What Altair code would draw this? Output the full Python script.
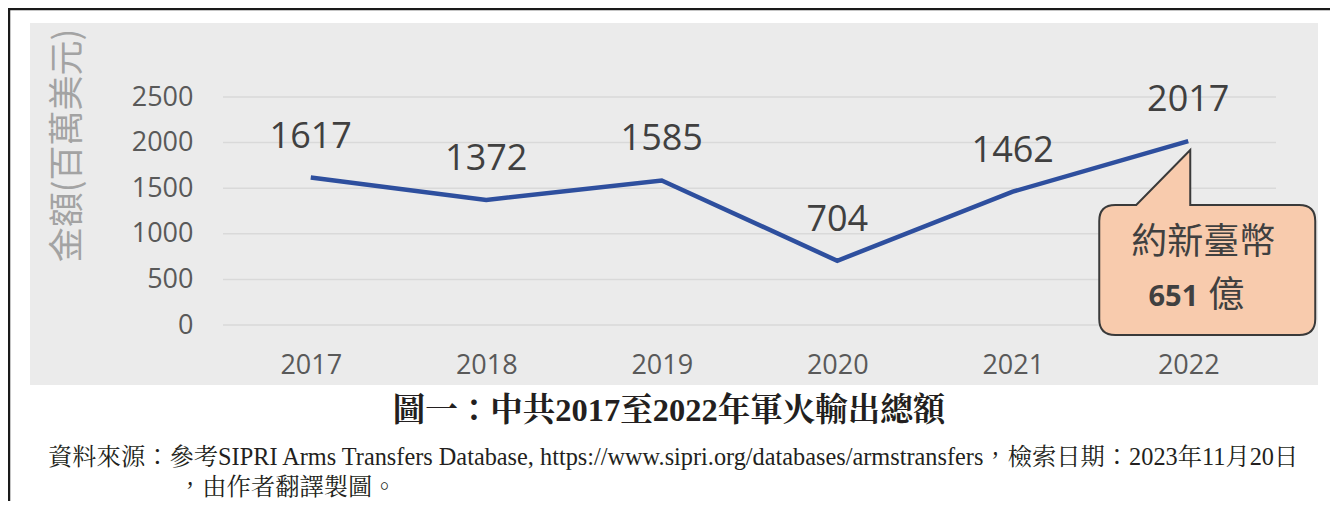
import altair as alt
import pandas as pd

# ---- data ----
YEARS = ["2017", "2018", "2019", "2020", "2021", "2022"]
VALUES = [1617, 1372, 1585, 704, 1462, 2017]
Y_TICKS = [0, 500, 1000, 1500, 2000, 2500]

Y_TITLE = "金額(百萬美元)"
CALLOUT_LINE1 = "約新臺幣"
CALLOUT_NUM = "651"
CALLOUT_UNIT = "億"
CALLOUT_YEAR = "2022"
FIG_TITLE = "圖一：中共2017至2022年軍火輸出總額"
SOURCE_1 = "資料來源：參考SIPRI Arms Transfers Database, https://www.sipri.org/databases/armstransfers，檢索日期：2023年11月20日"
SOURCE_2 = "，由作者翻譯製圖。"

df = pd.DataFrame({"year": YEARS, "value": VALUES})
grid_df = pd.DataFrame({"v": Y_TICKS})

W, H = 1053, 228
PAD = {"left": 215, "top": 89, "right": 54, "bottom": 176}

SANS = "Open Sans"
CJK = "Noto Sans CJK TC"
SERIF = "Liberation Serif, Noto Serif CJK TC, Noto Sans CJK TC"

one = alt.Data(values=[{"a": 1}])

x_enc = alt.X("year:O", sort=YEARS, scale=alt.Scale(padding=0.5),
              axis=alt.Axis(title=None, labelAngle=0, domain=False, ticks=False, zindex=1,
                            labelFont=SANS, labelFontSize=27, labelColor="#595959",
                            labelPadding=27))
y_scale = alt.Scale(domain=[0, 2500], nice=False, zero=True)
y_enc = alt.Y("value:Q", scale=y_scale,
              axis=alt.Axis(values=Y_TICKS, format="d", grid=False, domain=False,
                            ticks=False, zindex=1,
                            labelFont=SANS, labelFontSize=27, labelColor="#595959",
                            labelPadding=30,
                            title=Y_TITLE, titleFont=CJK, titleFontSize=35,
                            titleFontWeight="normal", titleColor="#a3a3a3",
                            titleAngle=270, titleAlign="center", titleBaseline="middle",
                            titleX=-156, titleY=48))

bg = alt.Chart(one).mark_rect(color="#EBEBEB").encode(
    x=alt.value(-193), x2=alt.value(1095), y=alt.value(-74), y2=alt.value(288))

border_left = alt.Chart(one).mark_rule(color="#1a1a1a", strokeWidth=2.5).encode(
    x=alt.value(-214), y=alt.value(-89), y2=alt.value(412))
border_top = alt.Chart(one).mark_rule(color="#1a1a1a", strokeWidth=2.5).encode(
    x=alt.value(-215), x2=alt.value(1115), y=alt.value(-88))

grid = alt.Chart(grid_df).mark_rule(color="#D9D9D9", strokeWidth=1.5).encode(
    y=alt.Y("v:Q", scale=y_scale))

base = alt.Chart(df)
line = base.mark_line(color="#2E4F9E", strokeWidth=4.5).encode(x=x_enc, y=y_enc)
labels = base.mark_text(font=SANS, fontSize=36, color="#404040", dy=-41,
                        baseline="middle").encode(
    x=alt.X("year:O", sort=YEARS), y=alt.Y("value:Q", scale=y_scale),
    text=alt.Text("value:Q"))

CALLOUT_PATH = ("M 2 9 L 2 64 L 111 64 Q 127 64 127 80 L 127 178 Q 127 194 111 194 "
                "L -73 194 Q -89 194 -89 178 L -89 80 Q -89 64 -73 64 L -52 64 Z")
cbase = base.transform_filter(alt.datum.year == CALLOUT_YEAR)
enc_xy = dict(x=alt.X("year:O", sort=YEARS), y=alt.Y("value:Q", scale=y_scale))
callout = cbase.mark_point(shape=CALLOUT_PATH, size=4, filled=True, fill="#F8CBAD",
                           stroke="#3a3a3a", strokeWidth=2, opacity=1,
                           fillOpacity=1, strokeOpacity=1).encode(**enc_xy)
c1 = cbase.mark_text(font=CJK, fontSize=36, color="#404040", dx=15, dy=102,
                     baseline="middle", align="center").encode(
    text=alt.value(CALLOUT_LINE1), **enc_xy)
c2 = cbase.mark_text(font=SANS, fontSize=29, fontWeight="bold", color="#404040",
                     dx=10, dy=156, baseline="middle", align="right").encode(
    text=alt.value(CALLOUT_NUM), **enc_xy)
c3 = cbase.mark_text(font=CJK, fontSize=36, color="#404040", dx=20, dy=155,
                     baseline="middle", align="left").encode(
    text=alt.value(CALLOUT_UNIT), **enc_xy)

title = alt.Chart(one).mark_text(font=SERIF, fontSize=32.5, fontWeight="bold",
                                 color="#231F20", align="center", baseline="middle").encode(
    x=alt.value(446), y=alt.value(314), text=alt.value(FIG_TITLE))
src1 = alt.Chart(one).mark_text(font=SERIF, fontSize=24.3, color="#231F20",
                                align="left", baseline="middle").encode(
    x=alt.value(-175), y=alt.value(361), text=alt.value(SOURCE_1))
src2 = alt.Chart(one).mark_text(font=SERIF, fontSize=24.3, color="#231F20",
                                align="left", baseline="middle").encode(
    x=alt.value(-45), y=alt.value(391), text=alt.value(SOURCE_2))

chart = alt.layer(
    bg, border_left, border_top, grid, line, labels, callout, c1, c2, c3,
    title, src1, src2
).properties(
    width=W, height=H,
    autosize=alt.AutoSizeParams(type="none"),
    padding=PAD,
    background="white",
).configure_view(stroke=None)

chart.save("out.html", embed_options={"renderer": "svg", "actions": False})
